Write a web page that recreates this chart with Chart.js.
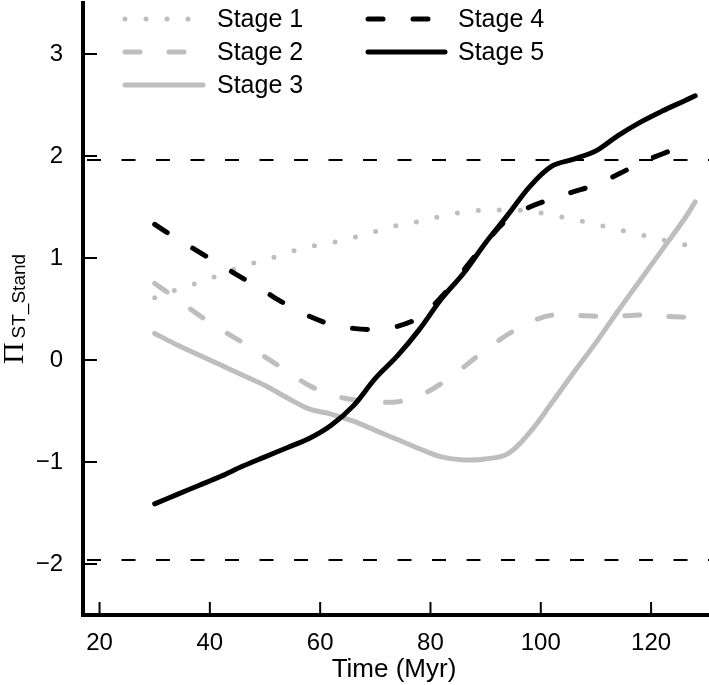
<!DOCTYPE html>
<html>
<head>
<meta charset="utf-8">
<script src="https://cdn.jsdelivr.net/npm/chart.js@4.4.1/dist/chart.umd.min.js"></script>
<style>
  html, body { margin: 0; padding: 0; background: #fff; }
  #wrap { width: 709px; height: 685px; }
</style>
</head>
<body>
<div id="wrap"><canvas id="chart" width="709" height="685"></canvas></div>
<script>
// data
const times  = [30, 34, 38, 42, 46, 50, 54, 58, 62, 66, 70, 74, 78, 82, 86, 90, 94, 98, 102, 106, 110, 114, 118, 122, 126, 128];
const stage1 = [0.61, 0.69, 0.76, 0.84, 0.92, 0.98, 1.05, 1.11, 1.15, 1.20, 1.26, 1.32, 1.36, 1.41, 1.45, 1.47, 1.47, 1.46, 1.42, 1.38, 1.33, 1.28, 1.23, 1.18, 1.13, 1.11];
const stage2 = [0.75, 0.60, 0.44, 0.30, 0.17, 0.03, -0.11, -0.25, -0.34, -0.39, -0.41, -0.41, -0.35, -0.23, -0.07, 0.10, 0.25, 0.37, 0.44, 0.44, 0.43, 0.43, 0.44, 0.43, 0.42, 0.41];
const stage3 = [0.26, 0.15, 0.05, -0.05, -0.15, -0.25, -0.37, -0.48, -0.53, -0.60, -0.69, -0.78, -0.87, -0.95, -0.98, -0.97, -0.92, -0.71, -0.42, -0.12, 0.17, 0.48, 0.78, 1.08, 1.38, 1.55];
const stage4 = [1.33, 1.19, 1.06, 0.93, 0.80, 0.67, 0.54, 0.43, 0.35, 0.31, 0.30, 0.33, 0.42, 0.62, 0.88, 1.15, 1.38, 1.50, 1.58, 1.65, 1.72, 1.82, 1.93, 2.02, 2.10, 2.14];
const stage5 = [-1.41, -1.32, -1.23, -1.14, -1.04, -0.95, -0.86, -0.77, -0.64, -0.45, -0.18, 0.04, 0.30, 0.60, 0.85, 1.15, 1.42, 1.70, 1.90, 1.97, 2.05, 2.20, 2.33, 2.44, 2.54, 2.59];
const stageNames = ['Stage 1', 'Stage 2', 'Stage 3', 'Stage 4', 'Stage 5'];
const xTicks = [20, 40, 60, 80, 100, 120];
const yTicks = [-2, -1, 0, 1, 2, 3];
const refLevels = [1.96, -1.96];

const GRAY = '#bebebe';
const styles = [
  { color: GRAY,   dash: [0, 21] },
  { color: GRAY,   dash: [15, 29] },
  { color: GRAY,   dash: [] },
  { color: '#000', dash: [15, 30] },
  { color: '#000', dash: [] }
];
const series = [stage1, stage2, stage3, stage4, stage5];
const SANS = "'Liberation Sans', Arial, Helvetica, sans-serif";

Chart.defaults.font.family = SANS;
Chart.defaults.color = '#000';

const decor = {
  id: 'decor',
  beforeDatasetsDraw(chart) {
    const { ctx, chartArea: a, scales: { y } } = chart;
    ctx.save();
    ctx.strokeStyle = '#000';
    ctx.lineWidth = 2;
    ctx.setLineDash([14, 20.5]);
    refLevels.forEach(v => {
      const py = y.getPixelForValue(v);
      ctx.beginPath();
      ctx.moveTo(a.left + 4, py);
      ctx.lineTo(a.right, py);
      ctx.stroke();
    });
    ctx.restore();
  },
  afterDraw(chart) {
    const { ctx, chartArea: a, scales: { x, y } } = chart;
    ctx.save();
    // inward tick marks
    ctx.strokeStyle = '#000';
    ctx.lineWidth = 2;
    xTicks.forEach(v => {
      const px = x.getPixelForValue(v);
      ctx.beginPath(); ctx.moveTo(px, a.bottom); ctx.lineTo(px, a.bottom - 13); ctx.stroke();
    });
    yTicks.forEach(v => {
      const py = y.getPixelForValue(v);
      ctx.beginPath(); ctx.moveTo(a.left, py); ctx.lineTo(a.left + 14, py); ctx.stroke();
    });
    ctx.fillStyle = '#000';
    ctx.fillRect(a.left - 2, a.bottom - 2, 4, 4);

    // x title
    ctx.font = '26px ' + SANS;
    ctx.textAlign = 'center';
    ctx.textBaseline = 'alphabetic';
    ctx.fillText('Time (Myr)', (a.left + a.right) / 2 - 2, 677);

    // y title: Pi with subscript
    ctx.save();
    ctx.translate(23, (a.top + a.bottom) / 2);
    ctx.rotate(-Math.PI / 2);
    ctx.textAlign = 'left';
    ctx.font = '30px "Liberation Serif", "Times New Roman", serif';
    const piW = ctx.measureText('\u03A0').width;
    ctx.font = '19px ' + SANS;
    const subW = ctx.measureText('ST_Stand').width;
    const gap = 4;
    const start = -(piW + gap + subW) / 2;
    ctx.font = '30px "Liberation Serif", "Times New Roman", serif';
    ctx.fillText('\u03A0', start, 0);
    ctx.font = '19px ' + SANS;
    ctx.fillText('ST_Stand', start + piW + gap, 2);
    ctx.restore();

    // legend
    const slots = [
      { x0: 125, x1: 203, tx: 217, y: 19 },
      { x0: 125, x1: 203, tx: 217, y: 52 },
      { x0: 125, x1: 203, tx: 217, y: 85 },
      { x0: 368, x1: 445, tx: 458, y: 19 },
      { x0: 368, x1: 445, tx: 458, y: 52 }
    ];
    ctx.font = '25px ' + SANS;
    ctx.textAlign = 'left';
    ctx.textBaseline = 'middle';
    stageNames.forEach((name, i) => {
      const s = slots[i];
      ctx.strokeStyle = styles[i].color;
      ctx.lineWidth = 5;
      ctx.lineCap = 'round';
      ctx.setLineDash(styles[i].dash);
      ctx.beginPath(); ctx.moveTo(s.x0, s.y); ctx.lineTo(s.x1, s.y); ctx.stroke();
      ctx.setLineDash([]);
      ctx.fillStyle = '#000';
      ctx.fillText(name, s.tx, s.y + 1);
    });
    ctx.restore();
  }
};

new Chart(document.getElementById('chart'), {
  type: 'line',
  data: {
    datasets: series.map((vals, i) => ({
      label: stageNames[i],
      data: times.map((t, k) => ({ x: t, y: vals[k] })),
      borderColor: styles[i].color,
      borderDash: styles[i].dash,
      borderWidth: 5,
      borderCapStyle: 'round',
      borderJoinStyle: 'round',
      pointRadius: 0,
      tension: 0.35,
      fill: false,
      order: 5 - i
    }))
  },
  options: {
    responsive: false,
    animation: false,
    devicePixelRatio: 1,
    layout: { padding: { top: 3, right: 0, left: 0, bottom: 0 } },
    plugins: { legend: { display: false }, tooltip: { enabled: false } },
    scales: {
      x: {
        type: 'linear', min: 17, max: 130.5,
        grid: { display: false },
        border: { display: true, color: '#000', width: 4 },
        ticks: { font: { size: 24 }, color: '#000', padding: 6, maxRotation: 0 },
        afterBuildTicks: s => { s.ticks = xTicks.map(v => ({ value: v })); },
        afterFit: s => { s.height = 70; s.paddingLeft = 0; s.paddingRight = 0; }
      },
      y: {
        min: -2.5, max: 3.5,
        grid: { display: false },
        border: { display: true, color: '#000', width: 4 },
        ticks: {
          font: { size: 24 }, color: '#000', padding: 12,
          callback: v => String(v).replace('-', '\u2212')
        },
        afterBuildTicks: s => { s.ticks = yTicks.map(v => ({ value: v })); },
        afterFit: s => { s.width = 83; s.paddingTop = 0; s.paddingBottom = 0; }
      }
    }
  },
  plugins: [decor]
});
</script>
</body>
</html>
